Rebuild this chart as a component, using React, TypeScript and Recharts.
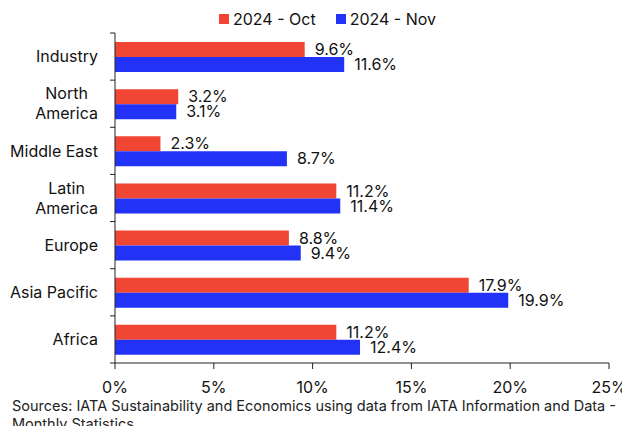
import React from "react";
import { BarChart, Bar, XAxis, YAxis, Legend, LabelList } from "recharts";

// data
const regions = [
  "Industry",
  "North America",
  "Middle East",
  "Latin America",
  "Europe",
  "Asia Pacific",
  "Africa",
];
const octValues = [9.6, 3.2, 2.3, 11.2, 8.8, 17.9, 11.2];
const novValues = [11.6, 3.1, 8.7, 11.4, 9.4, 19.9, 12.4];
const xTicks = [0, 5, 10, 15, 20, 25];
const wrappedRegions = ["North America", "Latin America"];
const seriesNames = ["2024 - Oct", "2024 - Nov"];
const sourceNote =
  "Sources: IATA Sustainability and Economics using data from IATA Information and Data - Monthly Statistics";

const RED = "#F04633";
const BLUE = "#2233F7";
const AXIS = "#222";
const FONT = "Inter, 'Noto Sans', sans-serif";
const FS = 16;

const chartData = regions.map((name, i) => ({
  name,
  oct: octValues[i],
  nov: novValues[i],
}));

let measureCtx: CanvasRenderingContext2D | null = null;
function textWidth(s: string) {
  if (!measureCtx) measureCtx = document.createElement("canvas").getContext("2d");
  if (!measureCtx) return s.length * 8;
  measureCtx.font = `${FS}px ${FONT}`;
  return measureCtx.measureText(s).width;
}

// category label + tick marks at the band boundaries
function RegionTick(props: any) {
  const { x, y, payload, index } = props;
  const name: string = payload.value;
  const lines = wrappedRegions.includes(name) ? name.split(" ") : [name];
  const half = typeof payload.offset === "number" && payload.offset > 0 ? payload.offset : 23.5;
  const axisX = x + 17;
  const w = Math.max(...lines.map(textWidth));
  const cx = x - w / 2;
  const lineH = 20;
  const startY = y - ((lines.length - 1) * lineH) / 2;
  return (
    <g>
      <line x1={axisX - 5} x2={axisX} y1={y - half} y2={y - half} stroke={AXIS} />
      {index === regions.length - 1 && (
        <line x1={axisX - 5} x2={axisX} y1={y + half} y2={y + half} stroke={AXIS} />
      )}
      {lines.map((l, i) => (
        <text
          key={l}
          x={cx}
          y={startY + i * lineH}
          dy="0.36em"
          textAnchor="middle"
          fill="#111"
          fontSize={FS}
          fontFamily={FONT}
        >
          {l}
        </text>
      ))}
    </g>
  );
}

function LegendBox() {
  const colors = [RED, BLUE];
  return (
    <div style={{ display: "flex", alignItems: "center", fontFamily: FONT, fontSize: FS, color: "#111" }}>
      {seriesNames.map((n, i) => (
        <span key={n} style={{ display: "flex", alignItems: "center", marginRight: 20 }}>
          <span style={{ width: 10, height: 10, background: colors[i], marginRight: 4 }} />
          {n}
        </span>
      ))}
    </div>
  );
}

export default function App() {
  return (
    <div style={{ position: "relative", width: 630, height: 434, margin: -8, background: "#fff", overflow: "hidden" }}>
      <BarChart
        width={630}
        height={400}
        data={chartData}
        layout="vertical"
        margin={{ top: 13, right: 21, left: 0, bottom: 7 }}
        barCategoryGap={9}
        barGap={0}
      >
        <Legend
          verticalAlign="top"
          content={<LegendBox />}
          wrapperStyle={{ position: "absolute", top: 9, left: 219, width: "auto", height: 20 }}
        />
        <XAxis
          type="number"
          domain={[0, 25]}
          ticks={xTicks}
          tickFormatter={(v) => `${v}%`}
          axisLine={{ stroke: AXIS }}
          tickLine={{ stroke: AXIS }}
          tickSize={6}
          tickMargin={13}
          tick={{ fill: "#111", fontSize: FS, fontFamily: FONT }}
        />
        <YAxis
          type="category"
          dataKey="name"
          width={115}
          axisLine={{ stroke: AXIS }}
          tickLine={false}
          tickSize={5}
          tickMargin={12}
          tick={<RegionTick />}
          interval={0}
        />
        <Bar dataKey="oct" name={seriesNames[0]} fill={RED} isAnimationActive={false}>
          <LabelList
            dataKey="oct"
            position="right"
            offset={10}
            formatter={(v: any) => `${Number(v).toFixed(1)}%`}
            style={{ fill: "#111", fontSize: FS, fontFamily: FONT }}
          />
        </Bar>
        <Bar dataKey="nov" name={seriesNames[1]} fill={BLUE} isAnimationActive={false}>
          <LabelList
            dataKey="nov"
            position="right"
            offset={10}
            formatter={(v: any) => `${Number(v).toFixed(1)}%`}
            style={{ fill: "#111", fontSize: FS, fontFamily: FONT }}
          />
        </Bar>
      </BarChart>
      <div
        style={{
          position: "absolute",
          left: 12,
          top: 397,
          width: 614,
          fontFamily: FONT,
          fontSize: 14.5,
          lineHeight: "18px",
          color: "#222",
        }}
      >
        {sourceNote}
      </div>
    </div>
  );
}
